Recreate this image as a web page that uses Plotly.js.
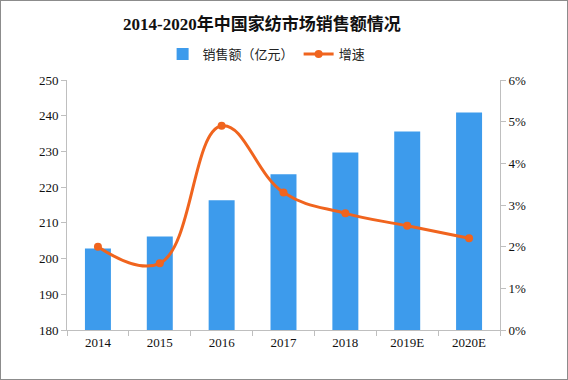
<!DOCTYPE html>
<html>
<head>
<meta charset="utf-8">
<script src="https://cdn.plot.ly/plotly-3.0.1.min.js"></script>
<style>
html,body{margin:0;padding:0;background:#fff;}
#chart{width:566px;height:378px;border:1px solid #8c8c8c;}
</style>
</head>
<body>
<div id="chart"></div>
<script>
const categories = ['2014','2015','2016','2017','2018','2019E','2020E'];
const sales = [202.8, 206.2, 216.3, 223.6, 229.7, 235.6, 240.9];
const growth = [0.020, 0.016, 0.049, 0.033, 0.028, 0.025, 0.022];
const leftTicks = [180,190,200,210,220,230,240,250];
const rightTicks = [0,0.01,0.02,0.03,0.04,0.05,0.06];
const rightTickText = ['0%','1%','2%','3%','4%','5%','6%'];

const serif = '"Liberation Serif","Noto Sans CJK SC",serif';
const cjk = '"Noto Sans CJK SC","Liberation Sans",sans-serif';

const traces = [
  {
    type:'bar', name:'销售额（亿元）', x:categories, y:sales,
    marker:{color:'#3d9bec'}, width:0.42, yaxis:'y'
  },
  {
    type:'scatter', mode:'lines+markers', name:'增速', x:categories, y:growth,
    yaxis:'y2', line:{color:'#f0641e', width:3, shape:'spline', smoothing:1.2},
    marker:{color:'#f0641e', size:8}
  }
];

const layout = {
  width:566, height:378,
  margin:{l:66, r:67, t:79, b:49},
  paper_bgcolor:'#fff', plot_bgcolor:'#fff',
  title:{text:'<b>2014-2020年中国家纺市场销售额情况</b>', x:0.461, xanchor:'center', y:0.94, yanchor:'middle',
    font:{family:serif, size:17, color:'#111'}},
  showlegend:true,
  legend:{orientation:'h', x:0.461, xanchor:'center', y:1.104, yanchor:'middle',
    font:{family:cjk, size:13, color:'#222'}, itemwidth:30, traceorder:'normal'},
  bargap:0.58,
  xaxis:{type:'category', showline:true, linecolor:'#bfbfbf', linewidth:1,
    ticks:'outside', tickson:'boundaries', ticklen:5, tickcolor:'#bfbfbf',
    showgrid:false, zeroline:false, tickfont:{family:serif, size:13, color:'#111'}},
  yaxis:{range:[180,250], tickvals:leftTicks, showline:true, linecolor:'#bfbfbf', linewidth:1,
    ticks:'outside', ticklen:5, tickcolor:'#bfbfbf', showgrid:false, zeroline:false,
    tickfont:{family:serif, size:13, color:'#111'}},
  yaxis2:{overlaying:'y', side:'right', range:[0,0.06], tickvals:rightTicks, ticktext:rightTickText,
    showline:true, linecolor:'#bfbfbf', linewidth:1, ticks:'outside', ticklen:5, tickcolor:'#bfbfbf',
    showgrid:false, zeroline:false, tickfont:{family:serif, size:13, color:'#111'}}
};

Plotly.newPlot('chart', traces, layout, {displayModeBar:false, staticPlot:true});
</script>
</body>
</html>
